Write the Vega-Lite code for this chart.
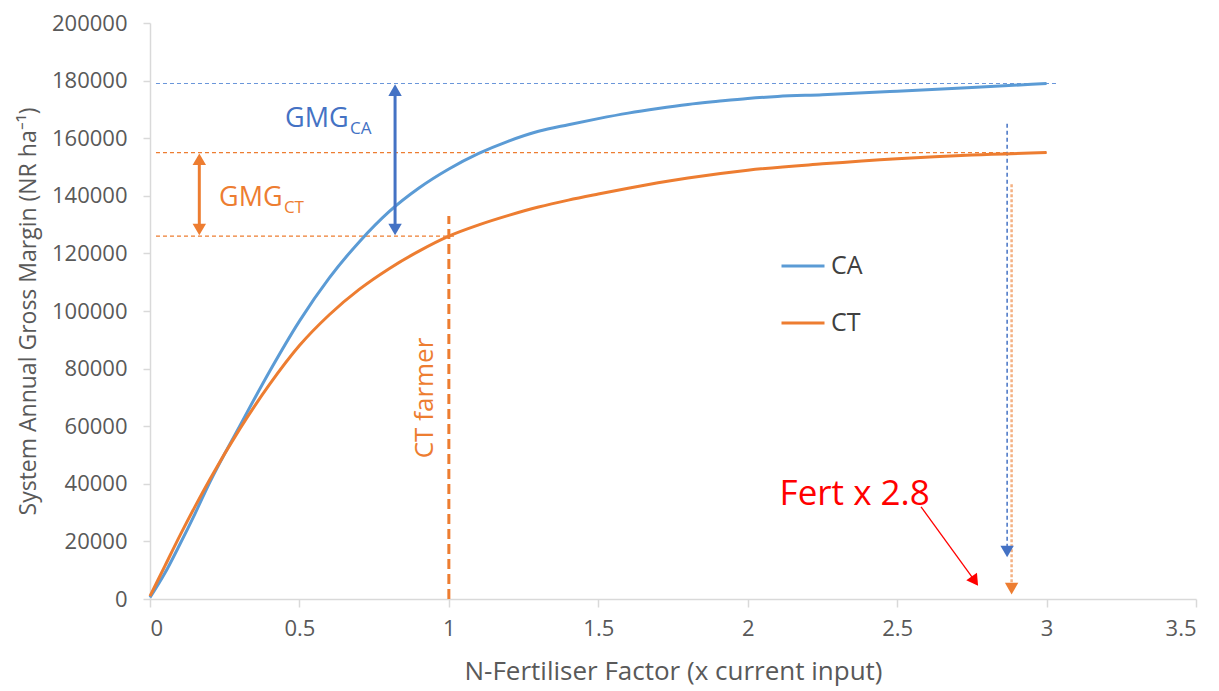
{
  "$schema": "https://vega.github.io/schema/vega-lite/v6.json",
  "width": 1046,
  "height": 576,
  "autosize": {"type": "none"},
  "padding": {"left": 150, "top": 23, "right": 23, "bottom": 92},
  "background": "white",
  "config": {
    "view": {"stroke": null},
    "font": "Open Sans",
    "axis": {
      "grid": false,
      "domainColor": "#D9D9D9",
      "domainWidth": 1.5,
      "tickColor": "#D9D9D9",
      "tickWidth": 1.5,
      "labelColor": "#595959",
      "labelFont": "Open Sans",
      "labelFontSize": 22,
      "titleColor": "#595959",
      "titleFont": "Open Sans",
      "titleFontWeight": "normal"
    }
  },
  "datasets": {
    "curves": [
      {"series": "CA", "x": 0, "y": 500},
      {"series": "CA", "x": 0.05, "y": 9000},
      {"series": "CA", "x": 0.1, "y": 19000},
      {"series": "CA", "x": 0.15, "y": 29500},
      {"series": "CA", "x": 0.2, "y": 40500},
      {"series": "CA", "x": 0.3, "y": 60000},
      {"series": "CA", "x": 0.4, "y": 79000},
      {"series": "CA", "x": 0.5, "y": 96500},
      {"series": "CA", "x": 0.6, "y": 111500},
      {"series": "CA", "x": 0.7, "y": 124000},
      {"series": "CA", "x": 0.8, "y": 134500},
      {"series": "CA", "x": 0.9, "y": 142700},
      {"series": "CA", "x": 1.0, "y": 149300},
      {"series": "CA", "x": 1.1, "y": 154700},
      {"series": "CA", "x": 1.2, "y": 159000},
      {"series": "CA", "x": 1.3, "y": 162400},
      {"series": "CA", "x": 1.4, "y": 164700},
      {"series": "CA", "x": 1.5, "y": 166800},
      {"series": "CA", "x": 1.6, "y": 168700},
      {"series": "CA", "x": 1.7, "y": 170300},
      {"series": "CA", "x": 1.8, "y": 171700},
      {"series": "CA", "x": 1.9, "y": 172800},
      {"series": "CA", "x": 2.0, "y": 173800},
      {"series": "CA", "x": 2.1, "y": 174500},
      {"series": "CA", "x": 2.25, "y": 175100},
      {"series": "CA", "x": 2.5, "y": 176300},
      {"series": "CA", "x": 2.75, "y": 177600},
      {"series": "CA", "x": 3.0, "y": 179000},
      {"series": "CT", "x": 0, "y": 1000},
      {"series": "CT", "x": 0.05, "y": 11500},
      {"series": "CT", "x": 0.1, "y": 22000},
      {"series": "CT", "x": 0.15, "y": 32000},
      {"series": "CT", "x": 0.2, "y": 41500},
      {"series": "CT", "x": 0.3, "y": 59000},
      {"series": "CT", "x": 0.4, "y": 74500},
      {"series": "CT", "x": 0.5, "y": 88000},
      {"series": "CT", "x": 0.6, "y": 98700},
      {"series": "CT", "x": 0.7, "y": 107500},
      {"series": "CT", "x": 0.8, "y": 114700},
      {"series": "CT", "x": 0.9, "y": 120800},
      {"series": "CT", "x": 1.0, "y": 126000},
      {"series": "CT", "x": 1.1, "y": 129900},
      {"series": "CT", "x": 1.2, "y": 133200},
      {"series": "CT", "x": 1.3, "y": 136100},
      {"series": "CT", "x": 1.4, "y": 138500},
      {"series": "CT", "x": 1.5, "y": 140600},
      {"series": "CT", "x": 1.6, "y": 142600},
      {"series": "CT", "x": 1.7, "y": 144500},
      {"series": "CT", "x": 1.8, "y": 146200},
      {"series": "CT", "x": 2.0, "y": 148900},
      {"series": "CT", "x": 2.25, "y": 151100},
      {"series": "CT", "x": 2.5, "y": 152900},
      {"series": "CT", "x": 2.75, "y": 154200},
      {"series": "CT", "x": 3.0, "y": 155000}
    ]
  },
  "layer": [
    {
      "data": {"values": [{"x": 0.02, "x2": 3.04, "y": 179000}]},
      "mark": {"type": "rule", "color": "#6A96DA", "strokeWidth": 1.2, "strokeDash": [4, 3]},
      "encoding": {
        "x": {"field": "x", "type": "quantitative", "scale": {"domain": [0, 3.5], "nice": false, "zero": false},
          "axis": {"values": [0, 0.5, 1, 1.5, 2, 2.5, 3, 3.5], "labelExpr": "'' + datum.value", "title": "N-Fertiliser Factor (x current input)", "titleFontSize": 26, "tickSize": 8, "labelPadding": 11, "titleY": 59, "titleBaseline": "top"}},
        "x2": {"field": "x2"},
        "y": {"field": "y", "type": "quantitative", "scale": {"domain": [0, 200000], "nice": false},
          "axis": {"values": [0, 20000, 40000, 60000, 80000, 100000, 120000, 140000, 160000, 180000, 200000], "format": "d", "title": "System Annual Gross Margin (NR ha⁻¹)", "titleFontSize": 23, "tickSize": 7, "labelPadding": 16, "titleX": -110, "titleY": 288, "titleBaseline": "bottom"}}
      }
    },
    {
      "data": {"values": [{"x": 0.02, "x2": 3.0, "y": 155000}, {"x": 0.02, "x2": 1.02, "y": 126000}]},
      "mark": {"type": "rule", "color": "#ED7D31", "strokeWidth": 1.2, "strokeDash": [4, 3]},
      "encoding": {
        "x": {"field": "x", "type": "quantitative"},
        "x2": {"field": "x2"},
        "y": {"field": "y", "type": "quantitative"}
      }
    },
    {
      "data": {"values": [{"x": 1.0, "y": 0, "y2": 133000}]},
      "mark": {"type": "rule", "color": "#ED7D31", "strokeWidth": 3, "strokeDash": [10, 5]},
      "encoding": {
        "x": {"field": "x", "type": "quantitative"},
        "y": {"field": "y", "type": "quantitative"},
        "y2": {"field": "y2"}
      }
    },
    {
      "data": {"values": [{"x": 2.868, "y": 165000, "y2": 17000}]},
      "mark": {"type": "rule", "color": "#4472C4", "strokeWidth": 1.5, "strokeDash": [4, 3]},
      "encoding": {
        "x": {"field": "x", "type": "quantitative"},
        "y": {"field": "y", "type": "quantitative"},
        "y2": {"field": "y2"}
      }
    },
    {
      "data": {"values": [{"x": 2.883, "y": 144000, "y2": 4000}]},
      "mark": {"type": "rule", "color": "#F4B183", "strokeWidth": 2.5, "strokeDash": [3, 2]},
      "encoding": {
        "x": {"field": "x", "type": "quantitative"},
        "y": {"field": "y", "type": "quantitative"},
        "y2": {"field": "y2"}
      }
    },
    {
      "data": {"name": "curves"},
      "mark": {"type": "line", "strokeWidth": 3, "interpolate": "monotone"},
      "encoding": {
        "x": {"field": "x", "type": "quantitative"},
        "y": {"field": "y", "type": "quantitative"},
        "color": {"field": "series", "type": "nominal",
          "scale": {"domain": ["CA", "CT"], "range": ["#5B9BD5", "#ED7D31"]},
          "legend": {"orient": "none", "legendX": 630, "legendY": 220, "title": null, "symbolType": "stroke", "symbolSize": 1849, "symbolStrokeWidth": 3, "labelFontSize": 25, "labelColor": "#404040", "labelOffset": 5, "rowPadding": 21, "labelFont": "Open Sans"}}
      }
    },
    {
      "data": {"values": [{"x": 0.82, "y": 128000, "y2": 177000}]},
      "mark": {"type": "rule", "color": "#4472C4", "strokeWidth": 3},
      "encoding": {
        "x": {"field": "x", "type": "quantitative"},
        "y": {"field": "y", "type": "quantitative"},
        "y2": {"field": "y2"}
      }
    },
    {
      "data": {"values": [{"x": 0.165, "y": 128000, "y2": 153000}]},
      "mark": {"type": "rule", "color": "#ED7D31", "strokeWidth": 3},
      "encoding": {
        "x": {"field": "x", "type": "quantitative"},
        "y": {"field": "y", "type": "quantitative"},
        "y2": {"field": "y2"}
      }
    },
    {
      "data": {"values": [{"x": 0.82, "y": 176700, "dir": "up"}, {"x": 0.82, "y": 128300, "dir": "down"}, {"x": 2.868, "y": 16500, "dir": "down"}]},
      "mark": {"type": "point", "filled": true, "color": "#4472C4", "opacity": 1, "size": 180},
      "encoding": {
        "x": {"field": "x", "type": "quantitative"},
        "y": {"field": "y", "type": "quantitative"},
        "shape": {"field": "dir", "type": "nominal", "scale": {"domain": ["up", "down"], "range": ["triangle-up", "triangle-down"]}, "legend": null}
      }
    },
    {
      "data": {"values": [{"x": 0.165, "y": 152700, "dir": "up"}, {"x": 0.165, "y": 128300, "dir": "down"}, {"x": 2.883, "y": 3600, "dir": "down"}]},
      "mark": {"type": "point", "filled": true, "color": "#ED7D31", "opacity": 1, "size": 180},
      "encoding": {
        "x": {"field": "x", "type": "quantitative"},
        "y": {"field": "y", "type": "quantitative"},
        "shape": {"field": "dir", "type": "nominal", "scale": {"domain": ["up", "down"], "range": ["triangle-up", "triangle-down"]}, "legend": null}
      }
    },
    {
      "data": {"values": [{"x": 2.58, "y": 32000, "x2": 2.755, "y2": 7000}]},
      "mark": {"type": "rule", "color": "#FF0000", "strokeWidth": 1.3},
      "encoding": {
        "x": {"field": "x", "type": "quantitative"},
        "y": {"field": "y", "type": "quantitative"},
        "x2": {"field": "x2"},
        "y2": {"field": "y2"}
      }
    },
    {
      "data": {"values": [{"x": 2.76, "y": 6200}]},
      "mark": {"type": "point", "shape": "triangle-up", "angle": 145, "filled": true, "color": "#FF0000", "opacity": 1, "size": 170},
      "encoding": {
        "x": {"field": "x", "type": "quantitative"},
        "y": {"field": "y", "type": "quantitative"}
      }
    },
    {
      "data": {"values": [{"x": 2.358, "y": 36500, "label": "Fert x 2.8"}]},
      "mark": {"type": "text", "color": "#FF0000", "fontSize": 35, "align": "center", "baseline": "middle", "font": "Open Sans"},
      "encoding": {
        "x": {"field": "x", "type": "quantitative"},
        "y": {"field": "y", "type": "quantitative"},
        "text": {"field": "label"}
      }
    },
    {
      "data": {"values": [{"x": 0.92, "y": 69800, "label": "CT farmer"}]},
      "mark": {"type": "text", "color": "#ED7D31", "fontSize": 26, "align": "center", "baseline": "middle", "angle": 270, "font": "Open Sans"},
      "encoding": {
        "x": {"field": "x", "type": "quantitative"},
        "y": {"field": "y", "type": "quantitative"},
        "text": {"field": "label"}
      }
    },
    {
      "data": {"values": [{"x": 0.452, "y": 164000, "label": "GMG"}]},
      "mark": {"type": "text", "color": "#4472C4", "fontSize": 27, "align": "left", "baseline": "alphabetic", "font": "Open Sans"},
      "encoding": {
        "x": {"field": "x", "type": "quantitative"},
        "y": {"field": "y", "type": "quantitative"},
        "text": {"field": "label"}
      }
    },
    {
      "data": {"values": [{"x": 0.669, "y": 161500, "label": "CA"}]},
      "mark": {"type": "text", "color": "#4472C4", "fontSize": 17, "align": "left", "baseline": "alphabetic", "font": "Open Sans"},
      "encoding": {
        "x": {"field": "x", "type": "quantitative"},
        "y": {"field": "y", "type": "quantitative"},
        "text": {"field": "label"}
      }
    },
    {
      "data": {"values": [{"x": 0.231, "y": 136500, "label": "GMG"}]},
      "mark": {"type": "text", "color": "#ED7D31", "fontSize": 27, "align": "left", "baseline": "alphabetic", "font": "Open Sans"},
      "encoding": {
        "x": {"field": "x", "type": "quantitative"},
        "y": {"field": "y", "type": "quantitative"},
        "text": {"field": "label"}
      }
    },
    {
      "data": {"values": [{"x": 0.448, "y": 134000, "label": "CT"}]},
      "mark": {"type": "text", "color": "#ED7D31", "fontSize": 17, "align": "left", "baseline": "alphabetic", "font": "Open Sans"},
      "encoding": {
        "x": {"field": "x", "type": "quantitative"},
        "y": {"field": "y", "type": "quantitative"},
        "text": {"field": "label"}
      }
    }
  ]
}
